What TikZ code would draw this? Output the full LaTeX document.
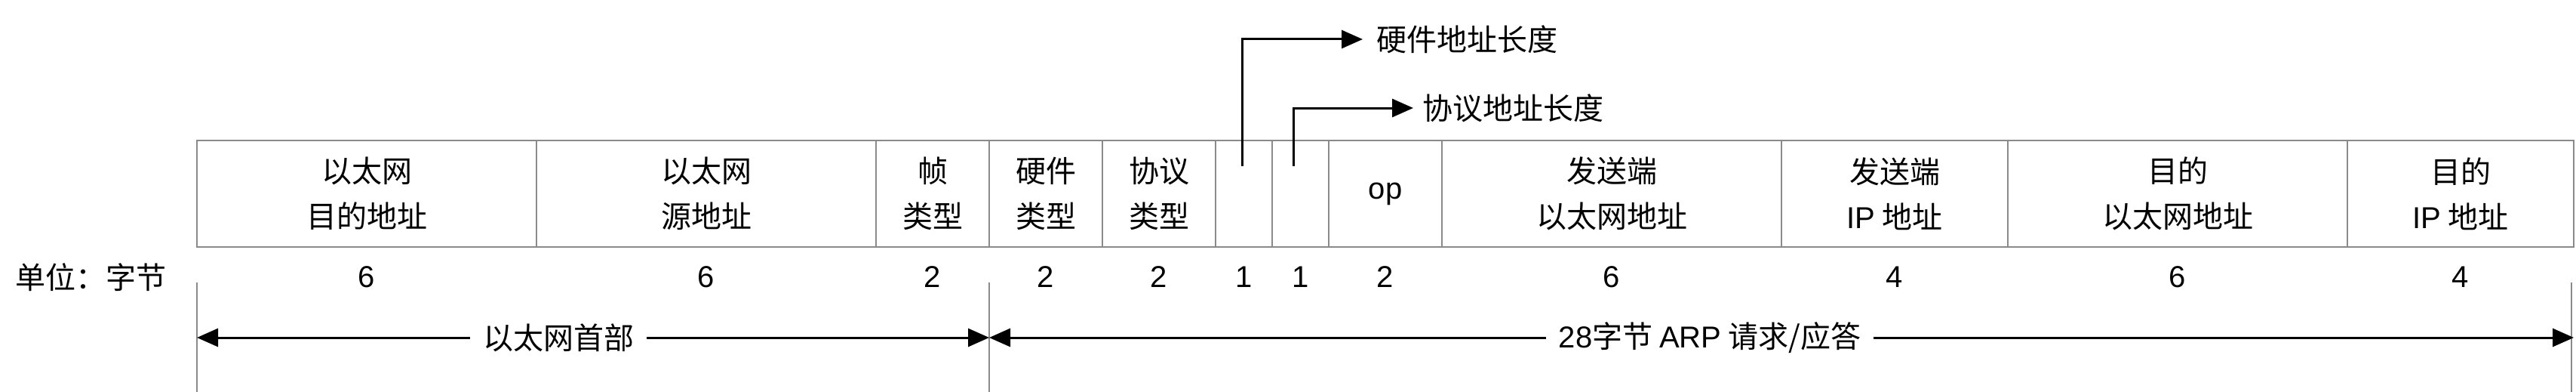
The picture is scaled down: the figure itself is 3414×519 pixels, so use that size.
\documentclass[tikz,border=0pt]{standalone}
\usepackage{fontspec}
\setmainfont{Noto Sans CJK SC}
\newfontfamily\lat{Liberation Sans}
\usetikzlibrary{arrows.meta}
\definecolor{gridgray}{HTML}{8A8A8A}
\begin{document}
\begin{tikzpicture}[x=1pt,y=-1pt,
  every node/.style={font=\fontsize{40}{60}\selectfont},
  field/.style={draw=gridgray, line width=2.5pt, minimum height=141pt, inner sep=0pt, align=center, anchor=center},
  num/.style={font=\fontsize{40}{60}\selectfont\lat, inner sep=0pt},
  tick/.style={draw=gridgray, line width=2pt},
  arr/.style={line width=3pt, -{Triangle[length=28pt,width=24pt]}},
  lbl/.style={inner xsep=17pt, inner ysep=0pt}
]
\useasboundingbox (0,0) rectangle (3414,519);
% fields
\node[field, minimum width=450pt] (f1) at (486,256.5) {以太网\\目的地址};
\node[field, minimum width=450pt] (f2) at (936,256.5) {以太网\\源地址};
\node[field, minimum width=150pt] (f3) at (1236,256.5) {帧\\类型};
\node[field, minimum width=150pt] (f4) at (1386,256.5) {硬件\\类型};
\node[field, minimum width=150pt] (f5) at (1536,256.5) {协议\\类型};
\node[field, minimum width=75pt] (f6) at (1648.5,256.5) {};
\node[field, minimum width=75pt] (f7) at (1723.5,256.5) {};
\node[field, minimum width=150pt] (f8) at (1836,256.5) {\lat op};
\node[field, minimum width=450pt] (f9) at (2136,256.5) {发送端\\以太网地址};
\node[field, minimum width=300pt] (f10) at (2511,256.5) {发送端\\{\lat IP} 地址};
\node[field, minimum width=450pt] (f11) at (2886,256.5) {目的\\以太网地址};
\node[field, minimum width=300pt] (f12) at (3261,256.5) {目的\\{\lat IP} 地址};
% sizes
\node (unit) at (120,367) {单位：字节};
\node[num] (n1) at (486,367) {6};
\node[num] (n2) at (936,367) {6};
\node[num] (n3) at (1236,367) {2};
\node[num] (n4) at (1386,367) {2};
\node[num] (n5) at (1536,367) {2};
\node[num] (n6) at (1648.5,367) {1};
\node[num] (n7) at (1723.5,367) {1};
\node[num] (n8) at (1836,367) {2};
\node[num] (n9) at (2136,367) {6};
\node[num] (n10) at (2511,367) {4};
\node[num] (n11) at (2886,367) {6};
\node[num] (n12) at (3261,367) {4};
% boundary ticks
\coordinate (t1a) at (261,374); \coordinate (t1b) at (261,519);
\coordinate (t2a) at (1311,374); \coordinate (t2b) at (1311,519);
\coordinate (t3a) at (3408,374); \coordinate (t3b) at (3408,519);
\draw[tick] (t1a) -- (t1b);
\draw[tick] (t2a) -- (t2b);
\draw[tick] (t3a) -- (t3b);
% span arrows
\coordinate (e0) at (261,447);
\coordinate (e1) at (1311,447);
\coordinate (e2) at (3411,447);
\node[lbl] (eth) at (740,447) {以太网首部};
\node[lbl] (arp) at (2266,447) {{\lat 28}字节 {\lat ARP} 请求/应答};
\draw[arr] (eth.west) -- (e0);
\draw[arr] (eth.east) -- (e1);
\draw[arr] (arp.west) -- (e1);
\draw[arr] (arp.east) -- (e2);
% length callouts
\coordinate (hl) at (1646,220);
\coordinate (pl) at (1714,220);
\node[lbl, inner xsep=18pt, anchor=west] (hw) at (1806,52) {硬件地址长度};
\node[lbl, inner xsep=12pt, anchor=west] (pw) at (1873,143) {协议地址长度};
\draw[arr] (hl) |- (hw.west);
\draw[arr] (pl) |- (pw.west);
\end{tikzpicture}
\end{document}
